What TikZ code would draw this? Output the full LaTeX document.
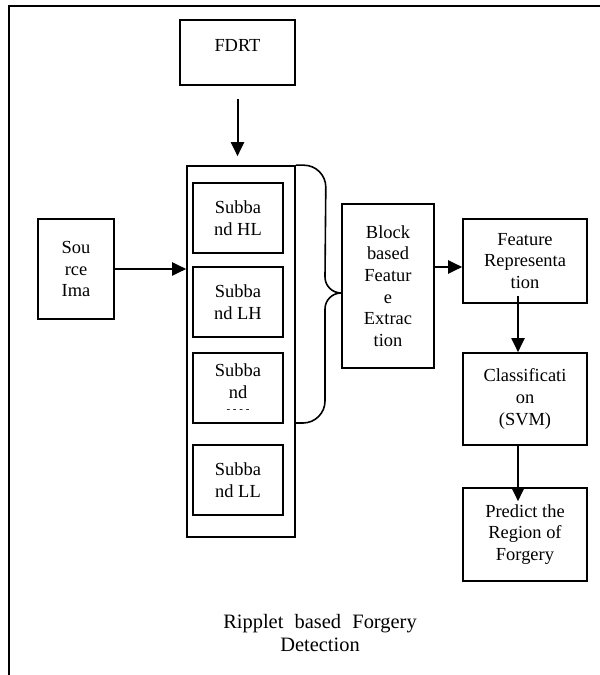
\documentclass[tikz,border=0pt]{standalone}
\usepackage{fontspec}
\setmainfont{Liberation Serif}
\usetikzlibrary{arrows.meta}

\begin{document}
\begin{tikzpicture}[x=1bp, y=1bp,
  box/.style={draw, line width=1.6bp, align=center, inner sep=0pt, font=\fontsize{18.5}{21.8}\selectfont},
  arr/.style={line width=2bp, -{Triangle[length=14bp, width=13bp]}},
  ]
\useasboundingbox (0,0) rectangle (600,675);
\draw [line width=2.2bp] (9,0) -- (9,669) -- (600,669);

\node (fdrt) at (237.5,622.5) [box, minimum width=115bp, minimum height=65bp, text depth=14bp] {FDRT};
\node (subs) at (241,323.5) [draw, line width=1.6bp, minimum width=108bp, minimum height=371bp] {};
\node (hl) at (238,457) [box, minimum width=90bp, minimum height=70bp] {Subba\\nd HL};
\node (lh) at (238,373) [box, minimum width=90bp, minimum height=70bp] {Subba\\nd LH};
\node (hh) at (238,287) [box, minimum width=90bp, minimum height=70bp] {Subba\\nd\\[-8bp]{\fontsize{11}{11}\selectfont - - - -}};
\node (ll) at (238,195) [box, minimum width=90bp, minimum height=70bp] {Subba\\nd LL};
\node (source) at (76,406) [box, minimum width=76bp, minimum height=100bp] {Sou\\rce\\Ima};
\node (block) at (388,389) [box, minimum width=92bp, minimum height=164bp] {Block\\based\\Featur\\e\\Extrac\\tion};
\node (featrep) at (525,414) [box, minimum width=124bp, minimum height=84bp] {Feature\\Representa\\tion};
\node (class) at (525,276) [box, minimum width=124bp, minimum height=92bp] {Classificati\\on\\(SVM)};
\node (predict) at (525,140.5) [box, minimum width=124bp, minimum height=93bp] {Predict the\\Region of\\Forgery};
\node (title) at (320,42) [align=center, font=\fontsize{20.5}{24}\selectfont] {Ripplet\hspace{0.55em}based\hspace{0.55em}Forgery\\Detection};
\coordinate (tip) at ([yshift=-7bp]block.west);

\draw [arr, shorten <=13bp, shorten >=9bp] (fdrt.south) -- (fdrt.south |- subs.north);
\draw [arr] (source.east) -- (source.east -| subs.west);
\draw [line width=1.6bp] (subs.north east) -- ++(8,0) arc [start angle=90, end angle=0, radius=22] -- (325,398) to [out=-90, in=180] (tip) to [out=180, in=90] (325,366) -- (325,274) arc [start angle=0, end angle=-90, radius=22] -- (295,252);
\draw [arr] ([yshift=-6bp]featrep.west -| block.east) -- ([yshift=-6bp]featrep.west);
\draw [arr, shorten <=-8bp] ([xshift=-7bp]featrep.south) -- ([xshift=-7bp]class.north);
\draw [arr, shorten >=-14bp] ([xshift=-7bp]class.south) -- ([xshift=-7bp]predict.north);
\end{tikzpicture}
\end{document}
